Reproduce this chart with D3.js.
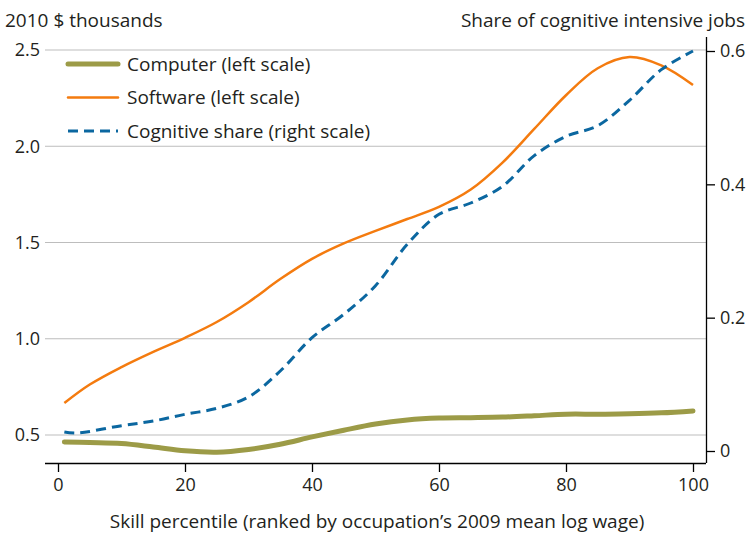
<!DOCTYPE html>
<html>
<head>
<meta charset="utf-8">
<script src="https://cdn.jsdelivr.net/npm/d3@7"></script>
<style>
  body { margin: 0; background: #fff; }
  text { font-family: "Open Sans", "Noto Sans", sans-serif; fill: #231f20; }
</style>
</head>
<body>
<div id="chart"></div>
<script>
// skill percentile positions
const pct = [1, 5, 10, 15, 20, 25, 30, 35, 40, 45, 50, 55, 60, 65, 70, 75, 80, 85, 90, 95, 100];
// 2010 $ thousands
const software = [0.666, 0.762, 0.853, 0.932, 1.005, 1.087, 1.19, 1.31, 1.415, 1.495, 1.56, 1.622, 1.685, 1.775, 1.915, 2.09, 2.265, 2.405, 2.463, 2.42, 2.318];
const computer = [0.464, 0.461, 0.456, 0.438, 0.418, 0.411, 0.425, 0.452, 0.49, 0.525, 0.557, 0.578, 0.588, 0.59, 0.593, 0.60, 0.608, 0.608, 0.61, 0.615, 0.625];
// share of cognitive intensive jobs
const cogPct = [1, 3, 10, 15, 20, 25, 30, 35, 40, 45, 50, 55, 60, 65, 70, 75, 80, 85, 90, 95, 100];
const cognitive = [0.0285, 0.027, 0.038, 0.045, 0.055, 0.064, 0.081, 0.12, 0.17, 0.205, 0.248, 0.31, 0.355, 0.372, 0.397, 0.443, 0.472, 0.488, 0.526, 0.572, 0.60];

const xTicks = [0, 20, 40, 60, 80, 100];
const leftTicks = [0.5, 1.0, 1.5, 2.0, 2.5];
const rightTicks = [0, 0.2, 0.4, 0.6];

const width = 750, height = 534;

const svg = d3.select("#chart").append("svg")
    .attr("width", width)
    .attr("height", height);

const x = d3.scaleLinear().domain([0, 100]).range([58, 693]);
const yL = d3.scaleLinear().domain([0.5, 2.5]).range([435, 50]);
const yR = d3.scaleLinear().domain([0, 0.6]).range([451, 51]);

const plotLeft = 45, plotRight = 706, plotBottom = 463, plotTop = 37;

// gridlines (left scale)
svg.append("g")
    .selectAll("line")
    .data(leftTicks)
    .enter().append("line")
        .attr("x1", plotLeft)
        .attr("x2", plotRight)
        .attr("y1", d => yL(d))
        .attr("y2", d => yL(d))
        .style("stroke", "#bdbdbd")
        .style("stroke-width", 1);

// left tick labels, no axis line
svg.append("g")
    .selectAll("text")
    .data(leftTicks)
    .enter().append("text")
        .attr("x", 40)
        .attr("y", d => yL(d))
        .attr("dy", "0.35em")
        .style("text-anchor", "end")
        .style("font-size", "18px")
        .text(d => d.toFixed(1));

// bottom axis
const xAxis = svg.append("g")
    .attr("transform", `translate(0,${plotBottom})`)
    .call(d3.axisBottom(x).tickValues(xTicks).tickSize(9).tickPadding(6).tickFormat(d3.format("d")));
xAxis.select(".domain").attr("d", `M${plotLeft},0.5H${plotRight}`).style("stroke-width", 1.3);
xAxis.selectAll(".tick line").style("stroke-width", 1.3);
xAxis.selectAll(".tick text").style("font-size", "18px").style("font-family", null);

// right axis
const rAxis = svg.append("g")
    .attr("transform", `translate(${plotRight},0)`)
    .call(d3.axisRight(yR).tickValues(rightTicks).tickSize(9).tickPadding(5)
        .tickFormat(d => d === 0 ? "0" : d3.format(".1f")(d)));
rAxis.select(".domain").attr("d", `M0.5,${plotTop}V${plotBottom}`).style("stroke-width", 1.3);
rAxis.selectAll(".tick line").style("stroke-width", 1.3);
rAxis.selectAll(".tick text").style("font-size", "18px").style("font-family", null);

// lines
const lineL = d3.line().x((d, i) => x(pct[i])).y(d => yL(d)).curve(d3.curveCatmullRom.alpha(0.5));
const lineR = d3.line().x((d, i) => x(cogPct[i])).y(d => yR(d)).curve(d3.curveCatmullRom.alpha(0.5));

svg.append("path")
    .attr("d", lineL(computer))
    .style("fill", "none")
    .style("stroke", "#9c9b47")
    .style("stroke-width", 5)
    .style("stroke-linecap", "round");

svg.append("path")
    .attr("d", lineL(software))
    .style("fill", "none")
    .style("stroke", "#f47b0f")
    .style("stroke-width", 2.5);

svg.append("path")
    .attr("d", lineR(cognitive))
    .style("fill", "none")
    .style("stroke", "#0b67a0")
    .style("stroke-width", 3)
    .style("stroke-dasharray", "10,6");

// titles
svg.append("text")
    .attr("x", 5)
    .attr("y", 27)
    .style("font-size", "19px")
    .text("2010 $ thousands");

svg.append("text")
    .attr("x", 745)
    .attr("y", 27)
    .style("font-size", "19px")
    .style("text-anchor", "end")
    .text("Share of cognitive intensive jobs");

svg.append("text")
    .attr("x", 377)
    .attr("y", 528)
    .style("font-size", "19px")
    .style("text-anchor", "middle")
    .text("Skill percentile (ranked by occupation\u2019s 2009 mean log wage)");

// legend
const legendItems = [
    {key: "Computer (left scale)", color: "#9c9b47", w: 5, dash: null},
    {key: "Software (left scale)", color: "#f47b0f", w: 2.5, dash: null},
    {key: "Cognitive share (right scale)", color: "#0b67a0", w: 3, dash: "10,6"}
];

const legend = svg.selectAll(".legend").data(legendItems)
    .enter().append("g")
    .attr("class", "legend")
    .attr("transform", (d, i) => `translate(0,${64 + i * 33.5})`);

legend.append("line")
    .attr("x1", 68)
    .attr("x2", 118)
    .style("stroke", d => d.color)
    .style("stroke-width", d => d.w)
    .style("stroke-linecap", d => d.dash ? "butt" : "round")
    .style("stroke-dasharray", d => d.dash);

legend.append("text")
    .attr("x", 127)
    .attr("dy", "0.35em")
    .style("font-size", "19px")
    .text(d => d.key);
</script>
</body>
</html>
